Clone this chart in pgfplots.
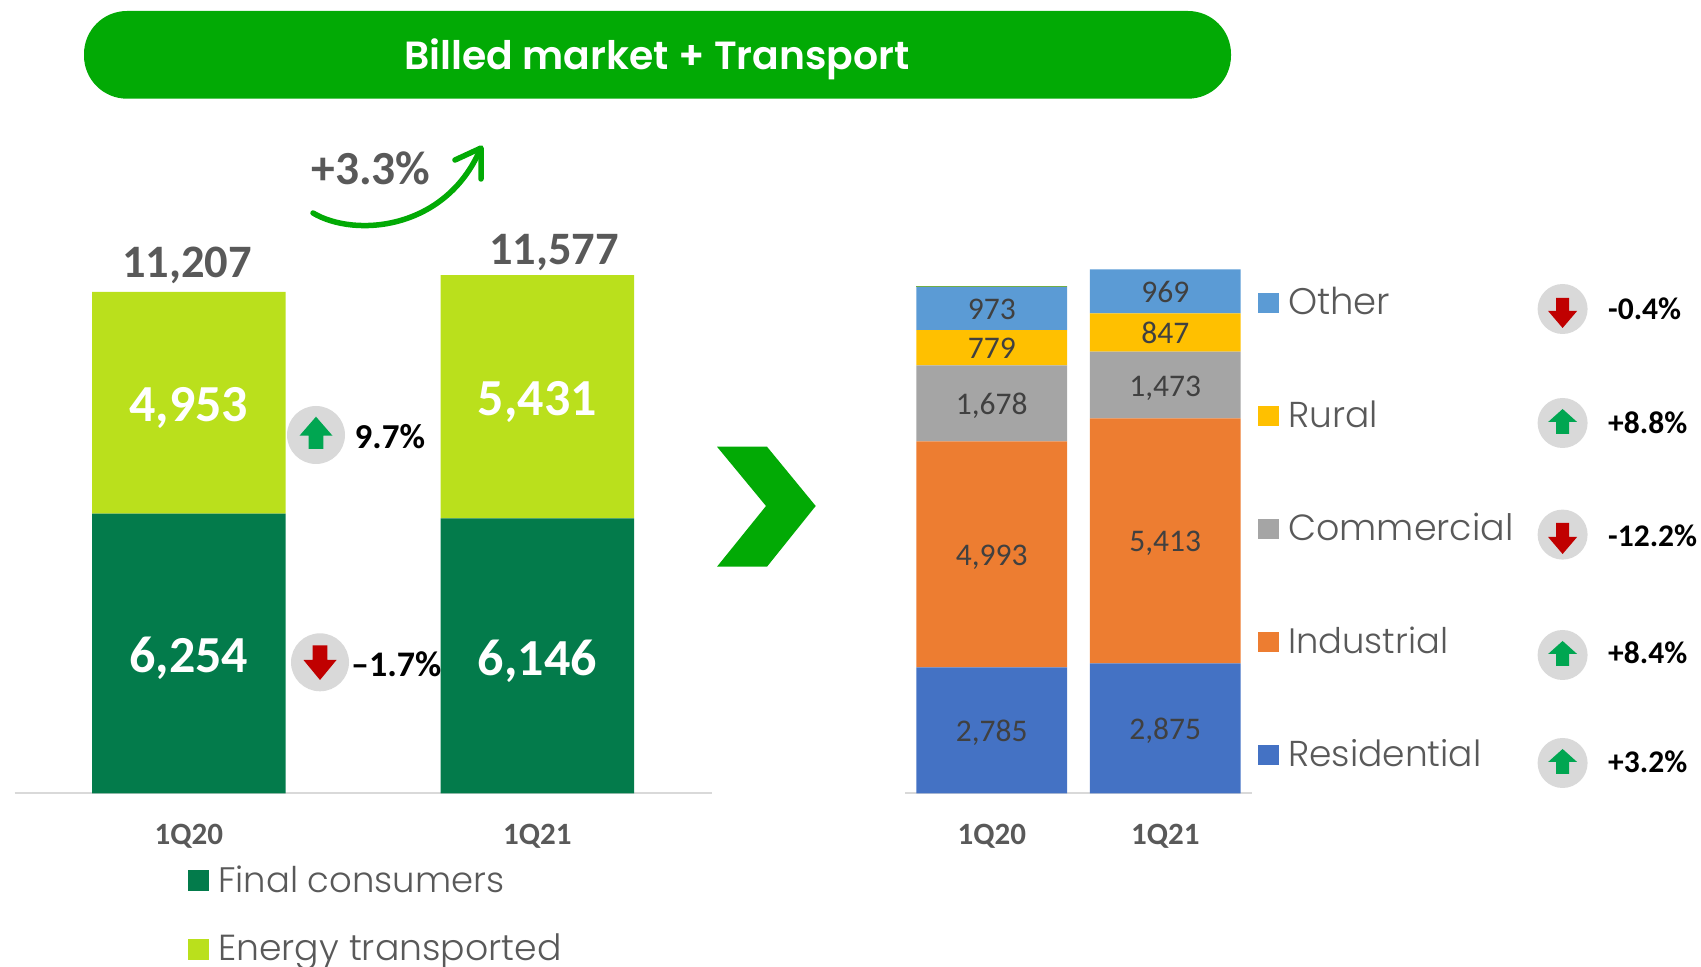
\documentclass[border=0pt]{standalone}
\usepackage{fontspec}
\usepackage{pgfplots}
\pgfplotsset{compat=1.18}
\setmainfont{Carlito}
\newfontfamily\gothic{Poppins}[UprightFont=* Light,BoldFont=* SemiBold]
\newcommand{\fs}[1]{\fontsize{#1pt}{#1pt}\selectfont}
\definecolor{pill}{HTML}{02AA05}
\definecolor{dk}{HTML}{037B4B}
\definecolor{lime}{HTML}{BAE01C}
\definecolor{bl}{HTML}{4472C4}
\definecolor{og}{HTML}{ED7D31}
\definecolor{gy}{HTML}{A5A5A5}
\definecolor{yl}{HTML}{FFC000}
\definecolor{lb}{HTML}{5B9BD5}
\definecolor{sl}{HTML}{70AD47}
\definecolor{tg}{HTML}{595959}
\definecolor{upc}{HTML}{00A651}
\definecolor{dnc}{HTML}{C00000}
\definecolor{cir}{HTML}{D9D9D9}
\pgfplotsset{stk/.style={
  ybar stacked, scale only axis, ymin=0, ymax=12000, xmin=-0.5, xmax=1.5,
  axis x line*=bottom, axis y line=none,
  axis line style={draw=cir,line width=2pt},
  xtick=data, xticklabels={1Q20,1Q21}, major tick length=0pt,
  xticklabel style={font=\bfseries\fs{31}, text=tg, anchor=center, yshift=-43pt},
  /pgf/number format/assume math mode=true,
  /pgf/number format/1000 sep={,},
  nodes near coords,
  every node near coord/.append style={anchor=center, text height=0.63em, text depth=0pt, inner sep=0pt},
}}
% arrows: centre x, tip y, base y, head base y, half head width
\newcommand{\upa}[5]{\fill[upc] (#1,#2) -- (#1+#5,#4) -- (#1+0.45*#5,#4) -- (#1+0.45*#5,#3) -- (#1-0.45*#5,#3) -- (#1-0.45*#5,#4) -- (#1-#5,#4) -- cycle;}
\newcommand{\dna}[5]{\fill[dnc] (#1,#2) -- (#1+#5,#4) -- (#1+0.45*#5,#4) -- (#1+0.45*#5,#3) -- (#1-0.45*#5,#3) -- (#1-0.45*#5,#4) -- (#1-#5,#4) -- cycle;}
\begin{document}
\begin{tikzpicture}
\useasboundingbox (0,0) rectangle (1701pt,967pt);
% left chart
\begin{axis}[stk, at={(14.6pt,173.5pt)}, anchor=south west, width=697pt, height=537.24pt, bar width=193.6pt,
  every node near coord/.append style={font=\bfseries\fs{52}, text=white, yshift=-16pt}]
\addplot[fill=dk,draw=none] coordinates {(0,6254) (1,6146)};
\addplot[fill=lime,draw=none] coordinates {(0,4953) (1,5431)};
\end{axis}
% right chart
\begin{axis}[stk, at={(905pt,173.5pt)}, anchor=south west, width=347pt, height=543.24pt, bar width=150.8pt,
  every node near coord/.append style={font=\fs{31.5}, text=black!75, yshift=-8pt}]
\addplot[fill=bl,draw=none] coordinates {(0,2785) (1,2875)};
\addplot[fill=og,draw=none] coordinates {(0,4993) (1,5413)};
\addplot[fill=gy,draw=none] coordinates {(0,1678) (1,1473)};
\addplot[fill=yl,draw=none] coordinates {(0,779) (1,847)};
\addplot[fill=lb,draw=none] coordinates {(0,973) (1,969)};
\end{axis}
\begin{scope}[x=1pt,y=-1pt,yshift=967pt]
% sliver
\fill[sl] (916.2,285.6) rectangle (1067,286.8);
% title pill
\fill[pill,rounded corners=43pt] (84,11) rectangle (1231,98.7);
\node[text=white,inner sep=0pt,font=\gothic\bfseries\fs{39.3}] at (657,59) {Billed market + Transport};
% growth arrow
\draw[pill,line width=5.5pt,line cap=round,line join=round] (313,213) .. controls (355,238) and (445,230) .. (480,150);
\draw[pill,line width=5.5pt,line cap=round,line join=round] (455,160) -- (481,148) -- (481,179);
\node[text=tg,font=\bfseries\fs{47.5},anchor=base,inner sep=0pt] at (371,185) {+3.3\%};
% totals
\node[text=tg,font=\bfseries\fs{46.5},anchor=base,inner sep=0pt] at (187,278) {11,207};
\node[text=tg,font=\bfseries\fs{46.5},anchor=base,inner sep=0pt] at (554,265) {11,577};
% chevron
\fill[pill] (717,446.7) -- (767,446.7) -- (815.7,506) -- (767,566.7) -- (717,566.7) -- (766,506) -- cycle;
% left badges
\fill[cir] (316,435) circle (29);
\upa{316}{416.7}{449}{435.7}{16.5}
\node[font=\bfseries\fs{35},anchor=base west,inner sep=0pt] at (354.5,449) {9.7\%};
\fill[cir] (320,662.3) circle (29);
\dna{320}{680}{645.3}{660}{16.5}
\node[font=\bfseries\fs{36},anchor=base west,inner sep=0pt] at (351,677) {\textendash 1.7\%};
% left legend
\fill[dk] (188,870) rectangle (209,890.7);
\node[text=tg,font=\gothic\fs{35.4},anchor=base west,inner sep=0pt] at (218,892.7) {Final consumers};
\fill[lime] (188,939) rectangle (209,960);
\node[text=tg,font=\gothic\fs{36.2},anchor=base west,inner sep=0pt] at (218,960.7) {Energy transported};
% right legend
\fill[lb] (1258,293) rectangle (1279,313);
\node[text=tg,font=\gothic\fs{37},anchor=base west,inner sep=0pt] at (1288,315) {Other};
\fill[yl] (1258,406) rectangle (1279,426);
\node[text=tg,font=\gothic\fs{36},anchor=base west,inner sep=0pt] at (1288,428) {Rural};
\fill[gy] (1258,519) rectangle (1279,539);
\node[text=tg,font=\gothic\fs{36.4},anchor=base west,inner sep=0pt] at (1288,541) {Commercial};
\fill[og] (1258,632) rectangle (1279,652.5);
\node[text=tg,font=\gothic\fs{35.3},anchor=base west,inner sep=0pt] at (1288,654) {Industrial};
\fill[bl] (1258,745) rectangle (1279,765.5);
\node[text=tg,font=\gothic\fs{36},anchor=base west,inner sep=0pt] at (1288,767) {Residential};
% right badges
\fill[cir] (1562.6,309) circle (25);
\dna{1562.6}{328}{298}{311}{14.5}
\node[font=\bfseries\fs{31.5},anchor=base west,inner sep=0pt] at (1608,319.5) {-0.4\%};
\fill[cir] (1562.6,423) circle (25);
\upa{1562.6}{409}{434}{422}{14.5}
\node[font=\bfseries\fs{31.5},anchor=base west,inner sep=0pt] at (1608,433.5) {+8.8\%};
\fill[cir] (1562.6,534.6) circle (25);
\dna{1562.6}{554}{523}{537}{14.5}
\node[font=\bfseries\fs{31.5},anchor=base west,inner sep=0pt] at (1608,546.5) {-12.2\%};
\fill[cir] (1562.6,655) circle (25);
\upa{1562.6}{641}{666}{654}{14.5}
\node[font=\bfseries\fs{31.5},anchor=base west,inner sep=0pt] at (1608,663.7) {+8.4\%};
\fill[cir] (1562.6,763) circle (25);
\upa{1562.6}{749}{774}{762}{14.5}
\node[font=\bfseries\fs{31.5},anchor=base west,inner sep=0pt] at (1608,773) {+3.2\%};
\end{scope}
\end{tikzpicture}
\end{document}
